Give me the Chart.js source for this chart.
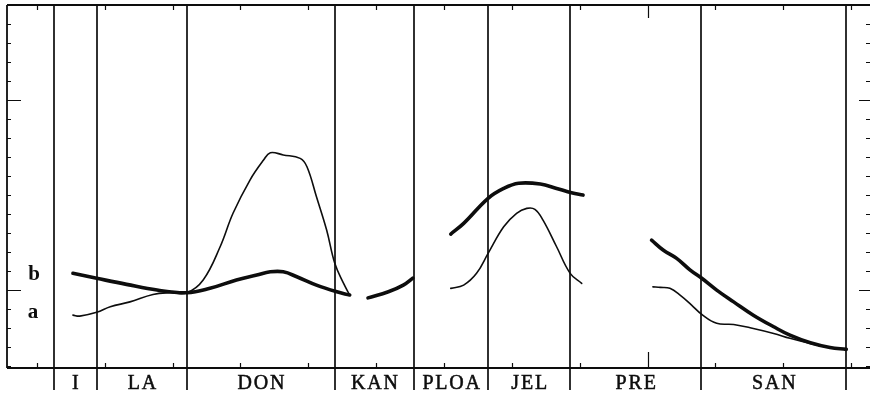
<!DOCTYPE html>
<html>
<head>
<meta charset="utf-8">
<script src="https://cdn.jsdelivr.net/npm/chart.js@4.4.1/dist/chart.umd.min.js"></script>
<style>
  html, body { margin: 0; padding: 0; background: #fff; }
  #wrap { width: 870px; height: 395px; position: relative; }
</style>
</head>
<body>
<div id="wrap"><canvas id="graf"></canvas></div>
<script>
// sections along the bottom, and where they start / end
var sections = ['I', 'LA', 'DON', 'KAN', 'PLOA', 'JEL', 'PRE', 'SAN'];
var bounds = [2.5, 8.8, 22.1, 43.9, 55.6, 66.5, 78.6, 97.9, 119.3];
var shortMark = [90];
var xTicks = [0, 10, 20, 30, 40, 50, 60, 70, 80, 90, 100, 110, 120];
var yTicks = [1, 2, 3, 4, 5, 6, 7, 8, 9, 10, 11, 12, 13, 14, 15, 16, 17, 18, 19];
var yLong = [5, 15];

// curve b (thick)  -- null = break
var bX = [5.3, 8.8, 13.2, 17.7, 22.1, 25.5, 29.4, 32.4, 34.4, 36.3, 38.3, 41.2, 44.2, 46.1,
          47.5,
          48.8, 51.8, 54.0, 55.4,
          58,
          61.0, 62.9, 66.5, 68.8, 71.0, 74.2, 76.6, 78.8, 80.5,
          85,
          90.6, 92.3, 94.3, 96.3, 98.0, 100.2, 102.7, 105.6, 108.6, 111.0, 114.0, 116.9, 119.3];
var bY = [5.88, 5.62, 5.30, 5.00, 4.86, 5.09, 5.53, 5.79, 5.96, 5.96, 5.70, 5.26, 4.91, 4.74,
          null,
          4.59, 4.91, 5.26, 5.63,
          null,
          7.95, 8.51, 9.83, 10.35, 10.62, 10.58, 10.35, 10.12, 10.00,
          null,
          7.63, 7.11, 6.67, 6.05, 5.62, 5.00, 4.38, 3.68, 3.07, 2.63, 2.23, 1.98, 1.88];

// curve a (thin)
var aX = [5.3, 6.3, 8.8, 10.8, 13.7, 17.1, 19.6, 22.1, 24.5, 27.0, 28.9, 31.4, 33.4, 34.4, 36.3, 38.8, 39.8, 41.2, 42.7, 43.9, 45.2, 46.1,
          53,
          61.0, 62.9, 64.8, 66.5, 68.8, 70.7, 72.2, 73.4, 74.6, 76.6, 78.6, 80.3,
          85,
          90.8, 91.9, 93.3, 94.8, 96.5, 98.0, 100.2, 102.7, 105.6, 108.6, 111.0, 114.0, 116.9, 119.3];
var aY = [3.68, 3.63, 3.83, 4.12, 4.38, 4.77, 4.86, 4.86, 5.53, 7.28, 9.04, 10.79, 11.84, 12.23, 12.11, 11.93, 11.49, 9.91, 8.16, 6.41, 5.35, 4.74,
          null,
          5.09, 5.26, 5.88, 6.93, 8.33, 9.04, 9.30, 9.25, 8.68, 7.28, 5.88, 5.35,
          null,
          5.17, 5.14, 5.09, 4.74, 4.21, 3.72, 3.25, 3.19, 2.98, 2.72, 2.46, 2.19, 1.98, 1.88];

function pts(xs, ys) {
  var out = [];
  for (var i = 0; i < xs.length; i++) out.push({x: xs[i], y: ys[i]});
  return out;
}

var ink = '#0d0d0d';

var cadre = {
  id: 'cadre',
  beforeDatasetsDraw: function(chart) {
    var c = chart.ctx, a = chart.chartArea;
    var sx = chart.scales.x, sy = chart.scales.y;
    var W = chart.width;
    c.save();
    c.strokeStyle = ink;
    c.lineWidth = 1.8;
    c.beginPath();
    c.moveTo(a.left, a.top); c.lineTo(W, a.top);
    c.moveTo(a.left, a.top); c.lineTo(a.left, a.bottom);
    c.moveTo(a.left, a.bottom); c.lineTo(W, a.bottom);
    c.stroke();

    // y ticks left and right, pointing in
    c.lineWidth = 1.2;
    c.beginPath();
    yTicks.forEach(function(v) {
      var py = Math.round(sy.getPixelForValue(v)) + 0.5;
      var L = yLong.indexOf(v) >= 0;
      c.moveTo(a.left, py); c.lineTo(a.left + (L ? 14 : 4), py);
      c.moveTo(W, py); c.lineTo(W - (L ? 11 : 4), py);
    });
    // x ticks top and bottom
    xTicks.forEach(function(v) {
      var px = Math.round(sx.getPixelForValue(v)) + 0.5;
      var L = shortMark.indexOf(v) >= 0;
      c.moveTo(px, a.bottom); c.lineTo(px, a.bottom - (L ? 16 : 5));
      c.moveTo(px, a.top); c.lineTo(px, a.top + (L ? 13 : 5));
    });
    c.stroke();

    // separators
    c.lineWidth = 1.7;
    c.beginPath();
    bounds.forEach(function(v) {
      var px = Math.round(sx.getPixelForValue(v));
      c.moveTo(px, a.top); c.lineTo(px, a.bottom + 22);
    });
    c.stroke();

    // section names
    c.fillStyle = ink;
    c.lineWidth = 0.5;
    c.font = '20px "Liberation Serif", "Times New Roman", serif';
    c.textAlign = 'center';
    c.textBaseline = 'alphabetic';
    try { c.letterSpacing = '1.8px'; } catch (e) {}
    sections.forEach(function(s, i) {
      var mid = (bounds[i] + bounds[i + 1]) / 2;
      var px = sx.getPixelForValue(mid) + 1;
      c.fillText(s, px, a.bottom + 21);
      c.strokeText(s, px, a.bottom + 21);
    });
    try { c.letterSpacing = '0px'; } catch (e) {}

    // curve names
    c.font = 'bold 21px "Liberation Serif", serif';
    c.textBaseline = 'middle';
    c.fillText('b', a.left + 27, sy.getPixelForValue(bY[0]) + 1);
    c.fillText('a', a.left + 26, sy.getPixelForValue(aY[0]) - 3);
    c.restore();
  }
};

var ctx = document.getElementById('graf').getContext('2d');
const ch = new Chart(ctx, {
  type: 'line',
  data: {
    datasets: [{
      label: 'b',
      data: pts(bX, bY),
      borderColor: ink,
      borderWidth: 3.6,
      pointRadius: 0,
      tension: 0.4,
      borderCapStyle: 'round',
      borderJoinStyle: 'round',
      spanGaps: false
    }, {
      label: 'a',
      data: pts(aX, aY),
      borderColor: ink,
      borderWidth: 1.6,
      pointRadius: 0,
      tension: 0.4,
      borderCapStyle: 'round',
      borderJoinStyle: 'round',
      spanGaps: false
    }]
  },
  options: {
    responsive: true,
    maintainAspectRatio: false,
    animation: false,
    layout: { padding: { left: 7, top: 5, right: 0, bottom: 27 } },
    plugins: { legend: { display: false }, tooltip: { enabled: false } },
    scales: {
      x: { type: 'linear', min: -4.42, max: 122.8, display: false },
      y: { type: 'linear', min: 0.9, max: 20.0, display: false }
    }
  },
  plugins: [cadre]
});
</script>
</body>
</html>
